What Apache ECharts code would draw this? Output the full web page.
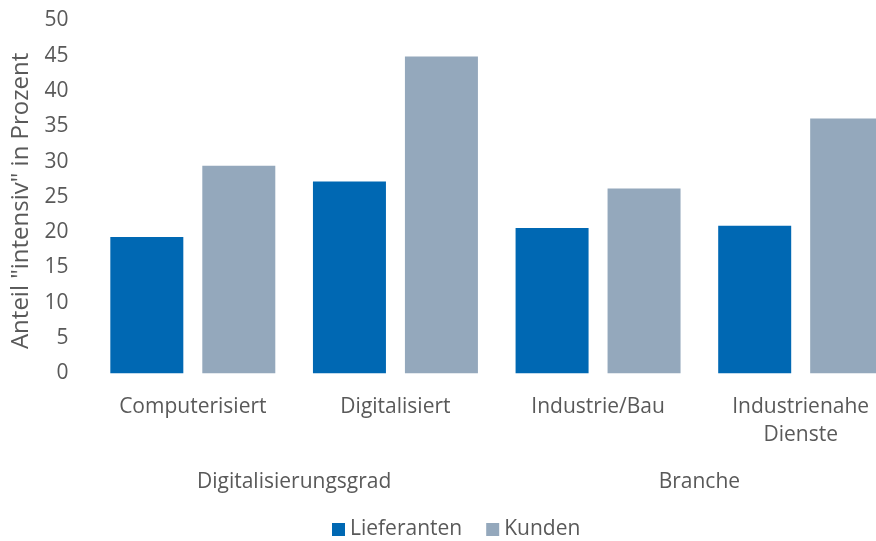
<!DOCTYPE html>
<html>
<head>
<meta charset="utf-8">
<script src="https://cdn.jsdelivr.net/npm/echarts@6/dist/echarts.min.js"></script>
<style>
  html, body { margin: 0; padding: 0; background: #fff; overflow: hidden; }
  /* the last bar is cut off at the right edge in the original, so the chart is wider than the window */
  #chart { width: 902px; height: 541px; }
</style>
</head>
<body>
<div id="chart"></div>
<script>
const categories = ['Computerisiert', 'Digitalisiert', 'Industrie/Bau', 'Industrienahe\nDienste']
const groups = ['Digitalisierungsgrad', 'Branche']
const lieferanten = [19.3, 27.2, 20.6, 20.9]
const kunden = [29.4, 44.9, 26.2, 36.1]
const yTicks = { min: 0, max: 50, interval: 5 }

const textColor = '#595959'
const font = 'Open Sans'

const chart = echarts.init(document.getElementById('chart'))
chart.setOption({
    animation: false,
    color: ['#0068b3', '#94a8bc'],
    textStyle: { fontFamily: font },
    grid: {
        left: 91.5,
        right: 0,
        top: 20.5,
        bottom: 167.7
    },
    legend: {
        top: 514,
        left: 327,
        itemWidth: 13,
        itemHeight: 13,
        itemGap: 24,
        icon: 'rect',
        textStyle: { color: textColor, fontSize: 21, fontFamily: font },
        data: ['Lieferanten', 'Kunden']
    },
    xAxis: [
        {
            type: 'category',
            data: categories,
            axisLine: { show: false },
            axisTick: { show: false },
            axisLabel: {
                color: textColor,
                fontSize: 21,
                fontFamily: font,
                margin: 20,
                lineHeight: 28,
                interval: 0
            }
        },
        {
            type: 'category',
            data: groups,
            position: 'bottom',
            offset: 90,
            axisLine: { show: false },
            axisTick: { show: false },
            axisLabel: { color: textColor, fontSize: 21, fontFamily: font }
        }
    ],
    yAxis: {
        type: 'value',
        min: yTicks.min,
        max: yTicks.max,
        interval: yTicks.interval,
        name: 'Anteil "intensiv" in Prozent',
        nameLocation: 'middle',
        nameGap: 56,
        nameTextStyle: { color: textColor, fontSize: 24, fontFamily: font, padding: [0, 0, 0, -8] },
        axisLine: { show: false },
        axisTick: { show: false },
        splitLine: { show: false },
        axisLabel: { color: textColor, fontSize: 21, fontFamily: font, margin: 23, padding: [6, 0, 0, 0] }
    },
    series: [
        {
            name: 'Lieferanten',
            type: 'bar',
            data: lieferanten,
            barWidth: 73,
            barGap: '26%'
        },
        {
            name: 'Kunden',
            type: 'bar',
            data: kunden,
            barWidth: 73,
            barGap: '26%'
        }
    ]
})
</script>
</body>
</html>
